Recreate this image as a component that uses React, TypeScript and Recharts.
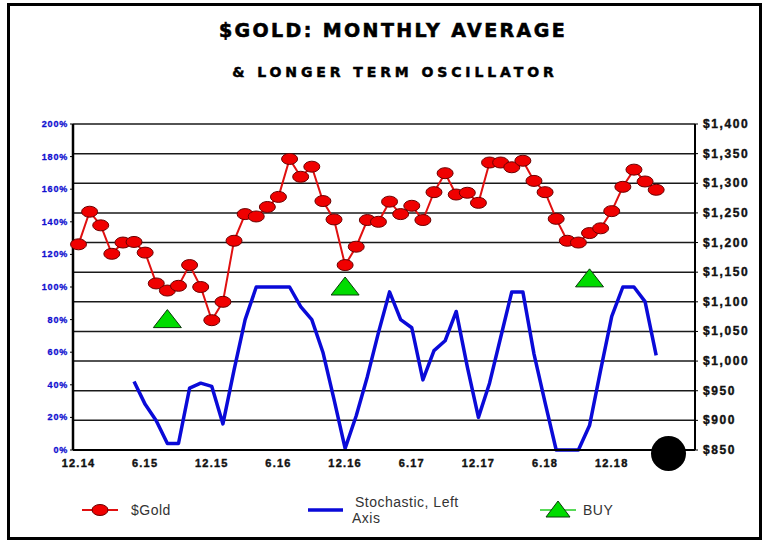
import { ComposedChart, Line, XAxis, YAxis, CartesianGrid } from 'recharts';

// monthly categories, Dec 2014 .. Jul 2019
const months = [
  '12.14',
  '1.15', '2.15', '3.15', '4.15', '5.15', '6.15', '7.15', '8.15', '9.15', '10.15', '11.15', '12.15',
  '1.16', '2.16', '3.16', '4.16', '5.16', '6.16', '7.16', '8.16', '9.16', '10.16', '11.16', '12.16',
  '1.17', '2.17', '3.17', '4.17', '5.17', '6.17', '7.17', '8.17', '9.17', '10.17', '11.17', '12.17',
  '1.18', '2.18', '3.18', '4.18', '5.18', '6.18', '7.18', '8.18', '9.18', '10.18', '11.18', '12.18',
  '1.19', '2.19', '3.19', '4.19', '5.19', '6.19', '7.19',
];

// labels shown on the category axis
const monthTicks = ['12.14', '6.15', '12.15', '6.16', '12.16', '6.17', '12.17', '6.18', '12.18'];

// $Gold monthly average (right axis)
const gold = [
  1197,
  1252, 1229, 1181, 1200, 1201, 1183, 1131, 1119, 1127, 1162, 1125, 1069,
  1100, 1203, 1248, 1244, 1260, 1277, 1341, 1311, 1328, 1270, 1239, 1162,
  1193, 1238, 1235, 1269, 1248, 1262, 1238, 1285, 1317, 1281, 1284, 1267,
  1335, 1335, 1327, 1338, 1304, 1285, 1240, 1203, 1200, 1216, 1224, 1253,
  1294, 1323, 1303, 1289, null, null, null,
];

// stochastic, left axis (%)
const stoch = [
  null,
  null, null, null, null, 42, 28, 18, 4, 4, 38, 41, 39,
  16, 49, 80, 100, 100, 100, 100, 88, 80, 60, 31, 1,
  21, 45, 72, 97, 80, 75, 43, 61, 67, 85, 51, 20,
  41, 69, 97, 97, 59, 29, 0, 0, 0, 15, 49, 82,
  100, 100, 91, 58, null, null, null,
];

// buy signals (left axis)
const buyMonths = ['8.15', '12.16', '10.18'];
const buyValues = [80, 100, 105];

const leftTicks = [0, 20, 40, 60, 80, 100, 120, 140, 160, 180, 200];
const rightTicks = [850, 900, 950, 1000, 1050, 1100, 1150, 1200, 1250, 1300, 1350, 1400];

const data = months.map((m, i) => {
  const b = buyMonths.indexOf(m);
  return { month: m, gold: gold[i], stoch: stoch[i], buy: b >= 0 ? buyValues[b] : null };
});

const FONT = '"Liberation Sans", Arial, sans-serif';
const TITLE_FONT = '"DejaVu Sans", "Liberation Sans", Arial, sans-serif';

const GoldDot = (p: any) => {
  if (p.value == null || p.cx == null) return <g key={p.index} />;
  return <ellipse key={p.index} cx={p.cx} cy={p.cy} rx={8} ry={5.5} fill="#f00000" stroke="#6a0000" strokeWidth={1} />;
};

const BuyDot = (p: any) => {
  if (p.value == null || p.cx == null) return <g key={p.index} />;
  const { cx, cy } = p;
  return (
    <polygon
      key={p.index}
      points={`${cx},${cy - 10} ${cx - 14},${cy + 8} ${cx + 14},${cy + 8}`}
      fill="#00dc00"
      stroke="#0a3a0a"
      strokeWidth={1}
    />
  );
};

const LeftTick = (p: any) => (
  <text x={p.x} y={p.y} dy={3} textAnchor="end" fill="#1010d0" fontSize={9} fontWeight={700}
    fontFamily={FONT} letterSpacing={0.8} stroke="#1010d0" strokeWidth={0.3}>
    {p.payload.value + '%'}
  </text>
);

const RightTick = (p: any) => (
  <text x={p.x} y={p.y} dy={4} textAnchor="start" fill="#111" fontSize={12} fontWeight={700}
    fontFamily={FONT} letterSpacing={1.6} stroke="#111" strokeWidth={0.4}>
    {'$' + p.payload.value.toLocaleString('en-US')}
  </text>
);

const BottomTick = (p: any) => (
  <text x={p.x} y={p.y} dy={9} textAnchor="middle" fill="#111" fontSize={11} fontWeight={700}
    fontFamily={FONT} letterSpacing={1.2} stroke="#111" strokeWidth={0.4}>
    {p.payload.value}
  </text>
);

export default function App() {
  const legendText = { position: 'absolute' as const, fontFamily: FONT, fontSize: 14, color: '#333', letterSpacing: 0.5, lineHeight: '16px' };

  return (
    <div style={{ position: 'fixed', left: 0, top: 0, width: 767, height: 540, background: '#fff', overflow: 'hidden' }}>
      {/* outer frame */}
      <div style={{ position: 'absolute', left: 7, top: 3, width: 749, height: 531, border: '3px solid #000' }} />

      {/* titles */}
      <div style={{ position: 'absolute', left: 0, top: 20, width: 786, textAlign: 'center', fontFamily: TITLE_FONT, fontWeight: 700,
        fontSize: 19, lineHeight: '20px', letterSpacing: 2.4, WebkitTextStroke: '0.6px #000', color: '#000' }}>
        $GOLD: MONTHLY AVERAGE
      </div>
      <div style={{ position: 'absolute', left: 0, top: 64, width: 790, textAlign: 'center', fontFamily: TITLE_FONT, fontWeight: 700,
        fontSize: 14, lineHeight: '16px', letterSpacing: 3.9, WebkitTextStroke: '0.5px #000', color: '#000' }}>
        &amp; LONGER TERM OSCILLATOR
      </div>

      <div style={{ position: 'absolute', left: 0, top: 0 }}>
        <ComposedChart width={767} height={540} data={data} margin={{ top: 124, right: 7, bottom: 60, left: 13 }}>
          <CartesianGrid yAxisId="right" vertical={false} stroke="#1a1a1a" strokeWidth={1.5} />
          <XAxis dataKey="month" ticks={monthTicks} interval={0} tickLine={false} height={30} tick={<BottomTick />}
            padding={{ left: 5.5, right: 5.5 }} axisLine={{ stroke: '#000', strokeWidth: 2 }} />
          <YAxis yAxisId="left" orientation="left" width={60} domain={[0, 200]} ticks={leftTicks}
            tick={<LeftTick />} tickSize={3} tickMargin={2} interval={0}
            axisLine={{ stroke: '#000', strokeWidth: 2.5 }} tickLine={{ stroke: '#000' }} />
          <YAxis yAxisId="right" orientation="right" width={65} domain={[850, 1400]} ticks={rightTicks}
            tick={<RightTick />} tickSize={3} tickMargin={5} interval={0}
            axisLine={{ stroke: '#000', strokeWidth: 2 }} tickLine={{ stroke: '#000' }} />
          <Line yAxisId="left" dataKey="stoch" stroke="#0a0ad8" strokeWidth={3.5} dot={false}
            isAnimationActive={false} connectNulls={false} strokeLinejoin="round" />
          <Line yAxisId="right" dataKey="gold" stroke="#e01010" strokeWidth={2} dot={GoldDot}
            activeDot={false} isAnimationActive={false} />
          <Line yAxisId="left" dataKey="buy" stroke="none" dot={BuyDot} activeDot={false}
            isAnimationActive={false} />
        </ComposedChart>
      </div>

      {/* black marker bottom right */}
      <div style={{ position: 'absolute', left: 651, top: 436, width: 35, height: 35, borderRadius: '50%', background: '#000' }} />

      {/* legend */}
      <svg style={{ position: 'absolute', left: 80, top: 500 }} width={40} height={20}>
        <line x1={2} y1={10} x2={38} y2={10} stroke="#e01010" strokeWidth={2} />
        <ellipse cx={20} cy={10} rx={8} ry={5.5} fill="#f00000" stroke="#6a0000" strokeWidth={1} />
      </svg>
      <div style={{ ...legendText, left: 131, top: 502 }}>$Gold</div>

      <svg style={{ position: 'absolute', left: 306, top: 500 }} width={40} height={20}>
        <line x1={2} y1={10} x2={37} y2={10} stroke="#0a0ad8" strokeWidth={3.5} />
      </svg>
      <div style={{ ...legendText, left: 355, top: 494 }}>Stochastic, Left</div>
      <div style={{ ...legendText, left: 352, top: 510 }}>Axis</div>

      <svg style={{ position: 'absolute', left: 538, top: 498 }} width={40} height={24}>
        <line x1={2} y1={12} x2={38} y2={12} stroke="#22cc22" strokeWidth={1.5} />
        <polygon points="20,3 8,19 32,19" fill="#00dc00" stroke="#0a3a0a" strokeWidth={1} />
      </svg>
      <div style={{ ...legendText, left: 583, top: 502 }}>BUY</div>
    </div>
  );
}
